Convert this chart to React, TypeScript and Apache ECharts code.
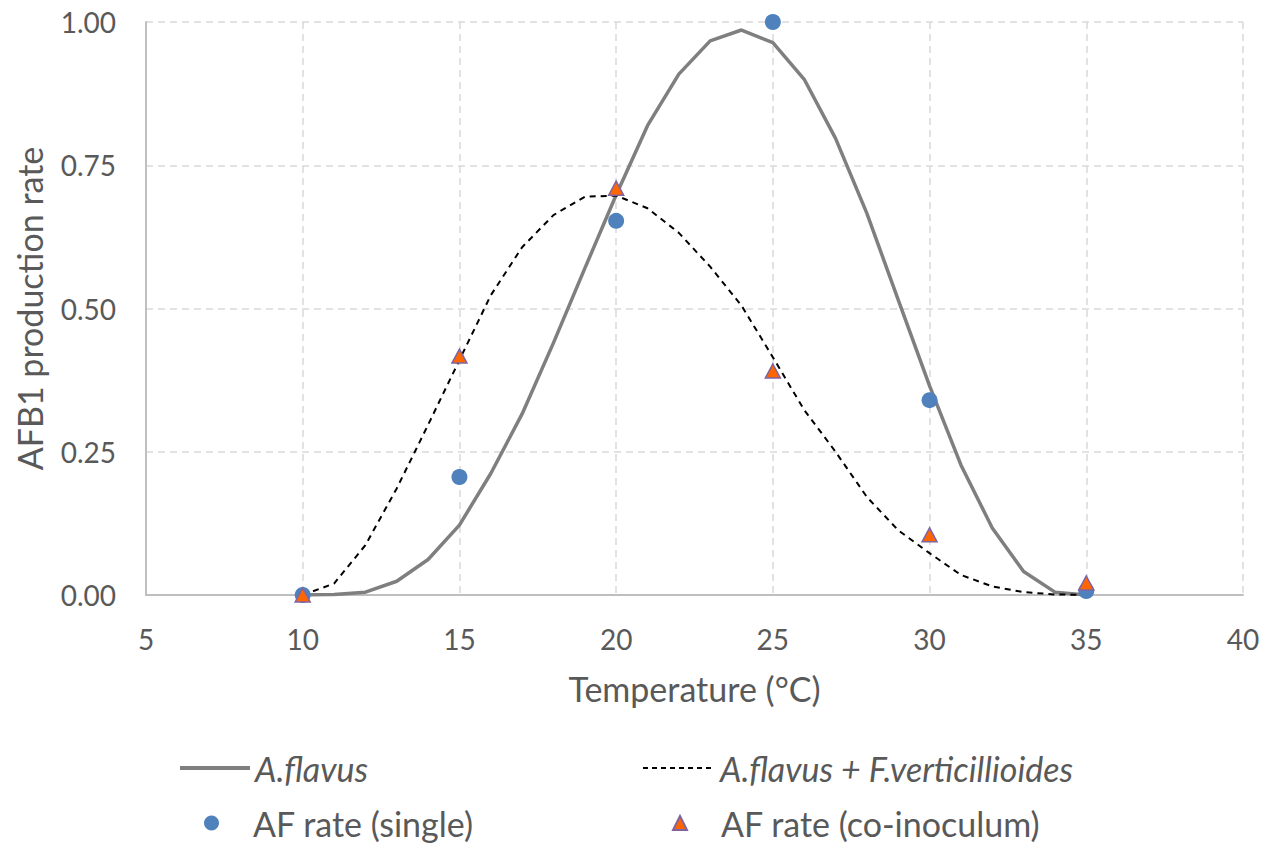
import React, { useEffect, useRef } from "react";
import * as echarts from "echarts";

const temps = [10, 11, 12, 13, 14, 15, 16, 17, 18, 19, 20, 21, 22, 23, 24, 25, 26, 27, 28, 29, 30, 31, 32, 33, 34, 35];
const flavusModel = [0, 0.001, 0.005, 0.024, 0.062, 0.122, 0.212, 0.316, 0.44, 0.57, 0.698, 0.819, 0.909, 0.967, 0.986, 0.964, 0.9, 0.797, 0.666, 0.515, 0.365, 0.227, 0.117, 0.041, 0.005, 0.0];
const coModel = [0, 0.02, 0.087, 0.186, 0.297, 0.41, 0.523, 0.607, 0.663, 0.695, 0.697, 0.675, 0.632, 0.573, 0.505, 0.415, 0.323, 0.25, 0.171, 0.113, 0.073, 0.035, 0.015, 0.005, 0.001, 0];
const obsTemps = [10, 15, 20, 25, 30, 35];
const singleRate = [0, 0.206, 0.653, 1.0, 0.34, 0.007];
const coRate = [0, 0.417, 0.71, 0.391, 0.105, 0.021];
const xTicks = [5, 40, 5];
const yTicks = [0, 1, 0.25];

const seriesNames = ["A.flavus", "A.flavus + F.verticillioides", "AF rate (single)", "AF rate (co-inoculum)"];

const FONT = "Lato, 'Open Sans', sans-serif";
const TXT = "#595959";

export default function App() {
  const ref = useRef<HTMLDivElement>(null);
  useEffect(() => {
    if (!ref.current) return;
    const chart = echarts.init(ref.current, undefined, { renderer: "svg" });
    const pair = (xs: number[], ys: number[]) => xs.map((x, i) => [x, ys[i]]);
    const legendText = (italic: boolean, padLeft: number) => ({
      fontFamily: FONT,
      fontSize: 34,
      color: TXT,
      fontStyle: italic ? "italic" : "normal",
      lineHeight: 34,
      padding: [0, 0, 0, padLeft],
    });
    chart.setOption({
      animation: false,
      backgroundColor: "#ffffff",
      grid: { left: 146, right: 26, top: 22, bottom: 250, containLabel: false },
      xAxis: {
        type: "value",
        min: xTicks[0],
        max: xTicks[1],
        interval: xTicks[2],
        name: "Temperature (°C)",
        nameLocation: "middle",
        nameGap: 76,
        nameTextStyle: { fontFamily: FONT, fontSize: 34, color: TXT },
        axisLine: { show: true, onZero: false, lineStyle: { color: "#bfbfbf", width: 2 } },
        axisTick: { show: false },
        axisLabel: { fontFamily: FONT, fontSize: 28, color: TXT, margin: 30 },
        splitLine: { show: true, lineStyle: { color: "#d9d9d9", width: 1.5, type: [7, 5] } },
      },
      yAxis: {
        type: "value",
        min: yTicks[0],
        max: yTicks[1],
        interval: yTicks[2],
        name: "AFB1 production rate",
        nameLocation: "middle",
        nameGap: 100,
        nameTextStyle: { fontFamily: FONT, fontSize: 34, color: TXT },
        axisLine: { show: true, lineStyle: { color: "#bfbfbf", width: 2 } },
        axisTick: { show: false },
        axisLabel: {
          fontFamily: FONT,
          fontSize: 28,
          color: TXT,
          margin: 30,
          formatter: (v: number) => v.toFixed(2),
        },
        splitLine: { show: true, lineStyle: { color: "#d9d9d9", width: 1.5, type: [7, 5] } },
      },
      legend: [
        {
          data: [seriesNames[0]],
          left: 178,
          top: 751,
          padding: 0,
          itemWidth: 70,
          itemHeight: 14,
          itemStyle: { opacity: 0 },
          lineStyle: { width: 4, color: "#7f7f7f" },
          textStyle: legendText(true, 0),
        },
        {
          data: [seriesNames[1]],
          left: 642,
          top: 751,
          padding: 0,
          itemWidth: 72,
          itemHeight: 14,
          itemStyle: { opacity: 0 },
          lineStyle: { width: 2, color: "#000000", type: [5, 4] },
          textStyle: legendText(true, 0),
        },
        {
          data: [{ name: seriesNames[2], icon: "circle" }],
          left: 204,
          top: 806,
          padding: 0,
          itemWidth: 15,
          itemHeight: 15,
          textStyle: legendText(false, 29),
        },
        {
          data: [{ name: seriesNames[3], icon: "triangle" }],
          left: 672,
          top: 806,
          padding: 0,
          itemWidth: 14,
          itemHeight: 14,
          textStyle: legendText(false, 29),
        },
      ],
      series: [
        {
          name: seriesNames[0],
          type: "line",
          data: pair(temps, flavusModel),
          symbol: "none",
          smooth: false,
          lineStyle: { color: "#7f7f7f", width: 3.5 },
          itemStyle: { color: "#7f7f7f" },
          z: 2,
        },
        {
          name: seriesNames[1],
          type: "line",
          data: pair(temps, coModel),
          symbol: "none",
          smooth: false,
          lineStyle: { color: "#000000", width: 2, type: [6, 5] },
          itemStyle: { color: "#000000" },
          z: 2,
        },
        {
          name: seriesNames[2],
          type: "scatter",
          data: pair(obsTemps, singleRate),
          symbol: "circle",
          symbolSize: 16,
          itemStyle: { color: "#4f81bd", opacity: 1 },
          z: 3,
        },
        {
          name: seriesNames[3],
          type: "scatter",
          data: pair(obsTemps, coRate),
          symbol: "triangle",
          symbolSize: [15, 14],
          itemStyle: { color: "#ff6600", borderColor: "#8064a2", borderWidth: 1.5, opacity: 1 },
          z: 4,
        },
      ],
    });
    return () => chart.dispose();
  }, []);
  return (
    <div
      ref={ref}
      style={{ position: "fixed", left: 0, top: 0, width: 1269, height: 845, background: "#fff" }}
    />
  );
}
